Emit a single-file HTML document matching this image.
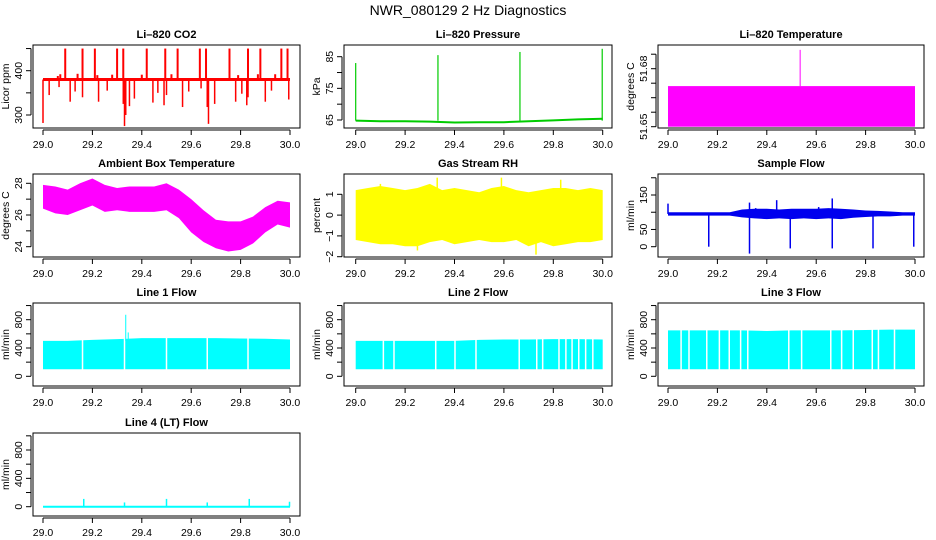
<!DOCTYPE html>
<html><head><meta charset="utf-8">
<style>
html,body{margin:0;padding:0;background:#fff;}
svg{display:block;font-family:"Liberation Sans",sans-serif;}
</style></head>
<body>
<svg id="chart" width="936" height="540" viewBox="0 0 936 540" xmlns="http://www.w3.org/2000/svg">
<rect width="936" height="540" fill="#fff"/>
<text x="468" y="15" text-anchor="middle" font-size="14" fill="#000">NWR_080129  2 Hz Diagnostics</text>
</svg>
<script>
// ---- data arrays ----
const xTicks = [29.0, 29.2, 29.4, 29.6, 29.8, 30.0];
const xTickLabels = ["29.0","29.2","29.4","29.6","29.8","30.0"];
const envX = [29.0,29.05,29.1,29.15,29.2,29.25,29.3,29.35,29.4,29.45,29.5,29.55,29.6,29.65,29.7,29.75,29.8,29.85,29.9,29.95,30.0];

const co2Base = 380;
const co2UpX = [29.09,29.16,29.21,29.30,29.325,29.42,29.495,29.545,29.635,29.66,29.755,29.83,29.88,29.965,29.99];
const co2UpY = [450,450,450,450,450,450,450,450,450,450,450,450,450,450,450];
const co2SmallX = [29.07,29.14,29.22,29.28,29.52,29.79,29.87,29.94,29.06,29.4];
const co2SmallY = [392,393,390,391,392,390,392,392,388,391];
const co2DownX = [29.0,29.025,29.065,29.11,29.13,29.16,29.225,29.26,29.325,29.33,29.335,29.35,29.37,29.445,29.465,29.49,29.5,29.565,29.59,29.64,29.665,29.67,29.695,29.78,29.805,29.825,29.83,29.9,29.925,29.995];
const co2DownY = [282,345,363,330,353,340,330,355,325,275,300,320,337,328,350,322,345,318,353,360,318,280,325,330,348,322,340,330,355,335];

const presX = [29.0,29.1,29.2,29.3,29.4,29.5,29.6,29.7,29.8,29.9,30.0];
const presY = [64.8,64.6,64.6,64.5,64.2,64.3,64.3,64.6,64.9,65.2,65.4];
const presSpikeX = [29.0,29.333,29.665,29.998];
const presSpikeY = [83,85.5,86.5,87.5];

const tempBase = 51.650;
const tempTop = 51.664;
const tempSpikeX = [29.535];
const tempSpikeY = [51.6765];

const ambUpper = [27.9,27.8,27.6,28.0,28.3,27.9,27.7,27.8,27.8,27.8,28.0,27.6,27.0,26.3,25.7,25.6,25.6,25.9,26.5,26.9,26.8];
const ambLower = [26.4,26.1,26.0,26.3,26.6,26.2,26.3,26.2,26.2,26.2,26.3,25.8,24.9,24.3,23.9,23.7,23.8,24.2,24.9,25.4,25.2];

const rhUpper = [1.2,1.3,1.4,1.3,1.2,1.3,1.5,1.2,1.3,1.2,1.1,1.3,1.4,1.2,1.1,1.2,1.3,1.3,1.2,1.3,1.2];
const rhLower = [-1.2,-1.3,-1.4,-1.4,-1.5,-1.5,-1.3,-1.2,-1.4,-1.3,-1.2,-1.3,-1.3,-1.2,-1.5,-1.3,-1.5,-1.4,-1.3,-1.3,-1.2];
const rhSpikeX = [29.33,29.59,29.83,29.73,29.25,29.1];
const rhSpikeY = [1.8,1.8,1.7,-1.9,-1.7,1.5];

const sfUpper = [100,100,100,100,100,100,108,110,110,108,110,110,110,112,110,108,105,104,102,100,100];
const sfLower = [90,90,90,90,90,90,85,82,80,82,80,82,80,82,80,84,86,88,88,90,90];
const sfSpikeX = [29.0,29.33,29.355,29.44,29.61,29.665,29.165,29.33,29.495,29.665,29.83,29.995];
const sfSpikeY = [125,128,112,135,115,140,0,-20,-5,-5,-5,0];

const flowX = [29.0,29.1,29.2,29.3,29.4,29.5,29.6,29.7,29.8,29.9,30.0];
const line1Top = [500,500,515,525,540,540,540,540,535,530,520];
const line2Top = [500,500,500,500,500,515,520,520,525,525,520];
const line3Top = [650,650,650,650,640,650,650,650,655,660,660];
const flowBottom = 100;
const line1Gaps = [29.16,29.33,29.5,29.665,29.83];
const line2Gaps = [29.112,29.155,29.324,29.402,29.487,29.662,29.733,29.757,29.823,29.851,29.876,29.903,29.931,29.96];
const line3Gaps = [29.053,29.085,29.157,29.208,29.248,29.294,29.323,29.489,29.541,29.659,29.703,29.75,29.827,29.852,29.917];
const line1SpikeX = [29.335,29.345];
const line1SpikeY = [870,620];
const line4SpikeX = [29.165,29.5,29.835,29.33,29.665,29.998];
const line4SpikeY = [110,110,110,60,60,70];

// ---- layout ----
const NS = "http://www.w3.org/2000/svg";
const svg = document.getElementById('chart');
const cols = [{l:33,r:300,x0:43,x1:290},{l:344,r:612,x0:355.7,x1:602.7},{l:658,r:924,x0:668,x1:915}];
const rows = [{t:45,b:128},{t:174,b:257},{t:303,b:386},{t:433,b:516}];

function mk(tag, attrs, parent){
  const e = document.createElementNS(NS, tag);
  for (const k in attrs) e.setAttribute(k, attrs[k]);
  (parent||svg).appendChild(e);
  return e;
}

function panel(ci, ri, name, title, ylab, v0, p0, v1, p1, ticks, labels, color){
  const c = cols[ci], r = rows[ri];
  const g = mk('g', {});
  
  
  const xs = v => c.x0 + (v - 29) * (c.x1 - c.x0);
  const ys = v => p0 + (v - v0) * (p1 - p0) / (v1 - v0);
  const t = mk('text', {x:(c.l+c.r)/2, y:r.t-7, 'text-anchor':'middle', 'font-size':'11', 'font-weight':'bold'}, g);
  t.textContent = title;
  
  
  const xa = mk('g', {}, g);
  
  
  mk('line', {x1:c.x0, x2:c.x1, y1:r.b+2, y2:r.b+2, stroke:'#000'}, xa);
  xTicks.forEach((v,i)=>{
    const x = xs(v);
    mk('line', {x1:x, x2:x, y1:r.b+2, y2:r.b+7, stroke:'#000'}, xa);
    const tl = mk('text', {x:x, y:r.b+20, 'text-anchor':'middle', 'font-size':'10.5'}, xa);
    tl.textContent = xTickLabels[i];
  });
  const ya = mk('g', {}, g);
  
  
  const tp = ticks.map(ys);
  mk('line', {x1:c.l-2, x2:c.l-2, y1:Math.min(...tp), y2:Math.max(...tp), stroke:'#000'}, ya);
  ticks.forEach((v,i)=>{
    const y = ys(v);
    mk('line', {x1:c.l-7, x2:c.l-2, y1:y, y2:y, stroke:'#000'}, ya);
    if (labels[i]) {
      const tl = mk('text', {x:c.l-11, y:y, 'text-anchor':'middle', 'font-size':'10.5', transform:`rotate(-90 ${c.l-11} ${y})`}, ya);
      tl.textContent = labels[i];
    }
  });
  const yt = mk('text', {x:c.l-24, y:(r.t+r.b)/2, 'text-anchor':'middle', 'font-size':'10.5', transform:`rotate(-90 ${c.l-24} ${(r.t+r.b)/2})`}, g);
  yt.textContent = ylab;
  
  
  mk('rect', {x:c.l, y:r.t, width:c.r-c.l, height:r.b-r.t, fill:'none', stroke:'#000'}, g);
  const s = mk('g', {stroke:color, fill:color}, g);
  
  
  return {xs, ys, s};
}
function vline(p, x, ya, yb, w){ mk('line', {x1:p.xs(x), x2:p.xs(x), y1:p.ys(ya), y2:p.ys(yb), 'stroke-width':w||1.5}, p.s); }
function band(p, xsArr, up, lo){
  let pts = xsArr.map((x,i)=>p.xs(x)+','+p.ys(up[i]));
  pts = pts.concat(xsArr.map((x,i)=>p.xs(x)+','+p.ys(lo[i])).reverse());
  mk('polygon', {points:pts.join(' '), stroke:'none'}, p.s);
}
function linePath(p, xsArr, ys, w){
  mk('polyline', {points:xsArr.map((x,i)=>p.xs(x)+','+p.ys(ys[i])).join(' '), fill:'none', 'stroke-width':w||2}, p.s);
}

// CO2
let p = panel(0,0,'co2','Li\u2013820 CO2','Licor ppm',400,70.7,300,115,[300,350,400,450],['300','','400',''],'#ff0000');
mk('line',{x1:p.xs(29),x2:p.xs(30),y1:p.ys(co2Base),y2:p.ys(co2Base),'stroke-width':3},p.s);
co2UpX.forEach((x,i)=>vline(p,x,co2Base,co2UpY[i],2));
co2SmallX.forEach((x,i)=>vline(p,x,co2Base,co2SmallY[i],2));
co2DownX.forEach((x,i)=>vline(p,x,co2Base,co2DownY[i],1.5));

// Pressure
p = panel(1,0,'pressure','Li\u2013820 Pressure','kPa',85,56.7,65,120,[65,70,75,80,85],['65','','75','','85'],'#00cc00');
linePath(p, presX, presY, 2);
presSpikeX.forEach((x,i)=>vline(p,x,presY[0],presSpikeY[i],1.2));

// Temperature
p = panel(2,0,'li820-temperature','Li\u2013820 Temperature','degrees C',51.65,126.7,51.675,54.2,[51.65,51.655,51.66,51.665,51.67,51.675],['51.65','','','','51.68',''],'#ff00ff');
mk('rect',{x:p.xs(29),y:p.ys(tempTop),width:p.xs(30)-p.xs(29),height:p.ys(tempBase)-p.ys(tempTop),stroke:'none'},p.s);
tempSpikeX.forEach((x,i)=>vline(p,x,tempTop,tempSpikeY[i],1));

// Ambient
p = panel(0,1,'ambient-temperature','Ambient Box Temperature','degrees C',28,183.3,24,246.7,[24,25,26,27,28],['24','','26','','28'],'#ff00ff');
band(p, envX, ambUpper, ambLower);

// RH
p = panel(1,1,'gas-stream-rh','Gas Stream RH','percent',1,194.3,-2,256.7,[-2,-1,0,1],['\u22122','\u22121','0','1'],'#ffff00');
band(p, envX, rhUpper, rhLower);
rhSpikeX.forEach((x,i)=>vline(p,x,0,rhSpikeY[i],1.5));

// Sample flow
p = panel(2,1,'sample-flow','Sample Flow','ml/min',150,195,0,246.7,[0,50,100,150,200],['0','50','','150',''],'#0000ee');
band(p, envX, sfUpper, sfLower);
sfSpikeX.forEach((x,i)=>vline(p,x,95,sfSpikeY[i],1.5));

// Line flows
const flowTicks = [0,200,400,600,800,1000];
const flowLabels = ['0','','400','','800',''];
function flowPanel(ci, ri, name, title, top, gaps){
  const r = rows[ri];
  const q = panel(ci,ri,name,title,'ml/min',0,r.b-9.7,800,r.b-66.3,flowTicks,flowLabels,'#00ffff');
  band(q, flowX, top, flowX.map(()=>flowBottom));
  gaps.forEach(x=>{ mk('line',{x1:q.xs(x),x2:q.xs(x),y1:q.ys(1000),y2:q.ys(50),stroke:'#fff','stroke-width':1.5},q.s); });
  return q;
}
p = flowPanel(0,2,'line-1-flow','Line 1 Flow',line1Top,line1Gaps);
line1SpikeX.forEach((x,i)=>vline(p,x,500,line1SpikeY[i],1));
flowPanel(1,2,'line-2-flow','Line 2 Flow',line2Top,line2Gaps);
flowPanel(2,2,'line-3-flow','Line 3 Flow',line3Top,line3Gaps);

// Line 4
p = panel(0,3,'line-4-flow','Line 4 (LT) Flow','ml/min',0,506.7,800,450,flowTicks,flowLabels,'#00ffff');
mk('line',{x1:p.xs(29),x2:p.xs(30),y1:p.ys(0),y2:p.ys(0),'stroke-width':2},p.s);
line4SpikeX.forEach((x,i)=>vline(p,x,0,line4SpikeY[i],1.5));
</script>
</body></html>
